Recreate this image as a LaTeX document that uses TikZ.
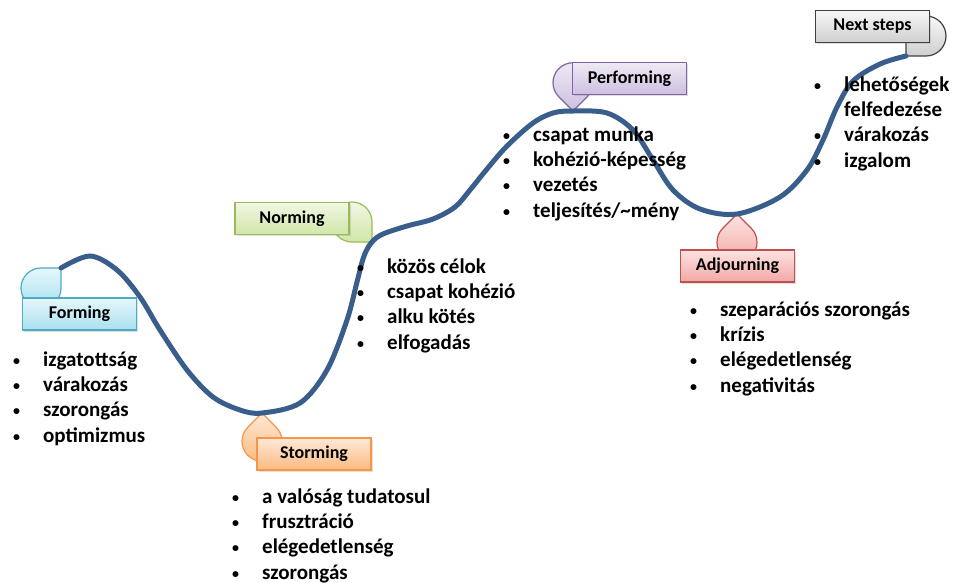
\documentclass[tikz,border=0pt]{standalone}
\usepackage{fontspec}
\setmainfont{Carlito}
\usetikzlibrary{calc,shadows}
\definecolor{curveblue}{HTML}{3A5E8C}
\definecolor{formtop}{HTML}{E6F7FC}\definecolor{formbot}{HTML}{A9E0EF}\definecolor{formline}{HTML}{4BACC6}
\definecolor{stormtop}{HTML}{FEE9D7}\definecolor{stormbot}{HTML}{FBB980}\definecolor{stormline}{HTML}{F79646}
\definecolor{normtop}{HTML}{F1F7E4}\definecolor{normbot}{HTML}{D0E6A8}\definecolor{normline}{HTML}{9BBB59}
\definecolor{perftop}{HTML}{EFEAF5}\definecolor{perfbot}{HTML}{CDBFE0}\definecolor{perfline}{HTML}{8064A2}
\definecolor{adjtop}{HTML}{FDE4E3}\definecolor{adjbot}{HTML}{F2A7A5}\definecolor{adjline}{HTML}{C0504D}
\definecolor{nexttop}{HTML}{F7F7F7}\definecolor{nextbot}{HTML}{CFCFCF}\definecolor{nextline}{HTML}{404040}
\def\bu{\llap{\raisebox{1pt}{\fontsize{14}{14}\selectfont\textbullet}\hspace{23pt}}}

\begin{document}
\begin{tikzpicture}[x=1pt,y=-1pt,
    phase/.style={draw=#1line,top color=#1top,bottom color=#1bot,line width=1.2pt,
        minimum width=114pt,minimum height=32pt,inner sep=0pt,
        drop shadow={shadow xshift=1.5pt,shadow yshift=-1.5pt,opacity=0.25},
        font=\fontsize{18}{21}\selectfont\bfseries},
    list/.style={anchor=base west,align=left,inner sep=0pt,
        font=\fontsize{21}{25.3}\selectfont\bfseries},
    curve/.style={draw=curveblue,line width=5pt,line cap=round}]
\useasboundingbox (0,0) rectangle (961,582);
% teardrop: tip, tip direction, colour set
\def\drop#1#2#3{
    \coordinate (c) at ($(#1)+(#2+180:28.28)$);
    \draw[draw=#3line,top color=#3top,bottom color=#3bot,line width=1.2pt]
        ($(c)+(#2-45:20)$) -- (#1) -- ($(c)+(#2+45:20)$)
        arc[start angle=#2+45,end angle=#2+315,radius=20] -- cycle;
}

    \coordinate (tipF) at (61,268);
    \coordinate (tipS) at (262,413);
    \coordinate (tipN) at (372,242);
    \coordinate (tipP) at (573,111);
    \coordinate (tipA) at (737,214);
    \coordinate (tipX) at (906,56);

    \drop{tipF}{-45}{form}
    \drop{tipS}{-90}{storm}
    \drop{tipN}{45}{norm}
    \drop{tipP}{90}{perf}
    \drop{tipA}{-90}{adj}
    \drop{tipX}{135}{next}

    \node[phase=form] (forming) at (79.5,314) {Forming};
    \node[phase=storm] (storming) at (314,454) {Storming};
    \node[phase=norm] (norming) at (292,218.5) {Norming};
    \node[phase=perf] (performing) at (629.5,78.5) {Performing};
    \node[phase=adj] (adjourning) at (737.5,266) {Adjourning};
    \node[phase=next] (nextsteps) at (872.5,26.5) {Next steps};

    \draw[curve] plot[smooth,tension=0.55] coordinates {
        (tipF) (90,256) (117,270) (140,297) (160,330) (187,370) (213,397) (240,410)
        (tipS) (300,403) (327,370) (347,320) (357,282) (364,256)
        (tipN) (383,234) (407,226) (433,219) (455,207) (470,190) (487,169) (507,146) (533,123) (553,113)
        (tipP) (607,113) (633,130) (653,160) (673,190) (700,209)
        (tipA) (780,197) (807,170) (823,140) (837,107) (853,81) (880,64)
        (tipX)};

    % lists: anchored at the baseline of their last line
    \node[list] (formlist) at (43,442) {\bu izgatottság\\\bu várakozás\\\bu szorongás\\\bu optimizmus};
    \node[list] (stormlist) at (262,579) {\bu a valóság tudatosul\\\bu frusztráció\\\bu elégedetlenség\\\bu szorongás};
    \node[list] (normlist) at (387,349) {\bu közös célok\\\bu csapat kohézió\\\bu alku kötés\\\bu elfogadás};
    \node[list] (perflist) at (533,217) {\bu csapat munka\\\bu kohézió-képesség\\\bu vezetés\\\bu teljesítés/\~{}mény};
    \node[list] (adjlist) at (720,392) {\bu szeparációs szorongás\\\bu krízis\\\bu elégedetlenség\\\bu negativitás};
    \node[list] (nextlist) at (844,167) {\bu lehetőségek\\felfedezése\\\bu várakozás\\\bu izgalom};

\end{tikzpicture}
\end{document}
